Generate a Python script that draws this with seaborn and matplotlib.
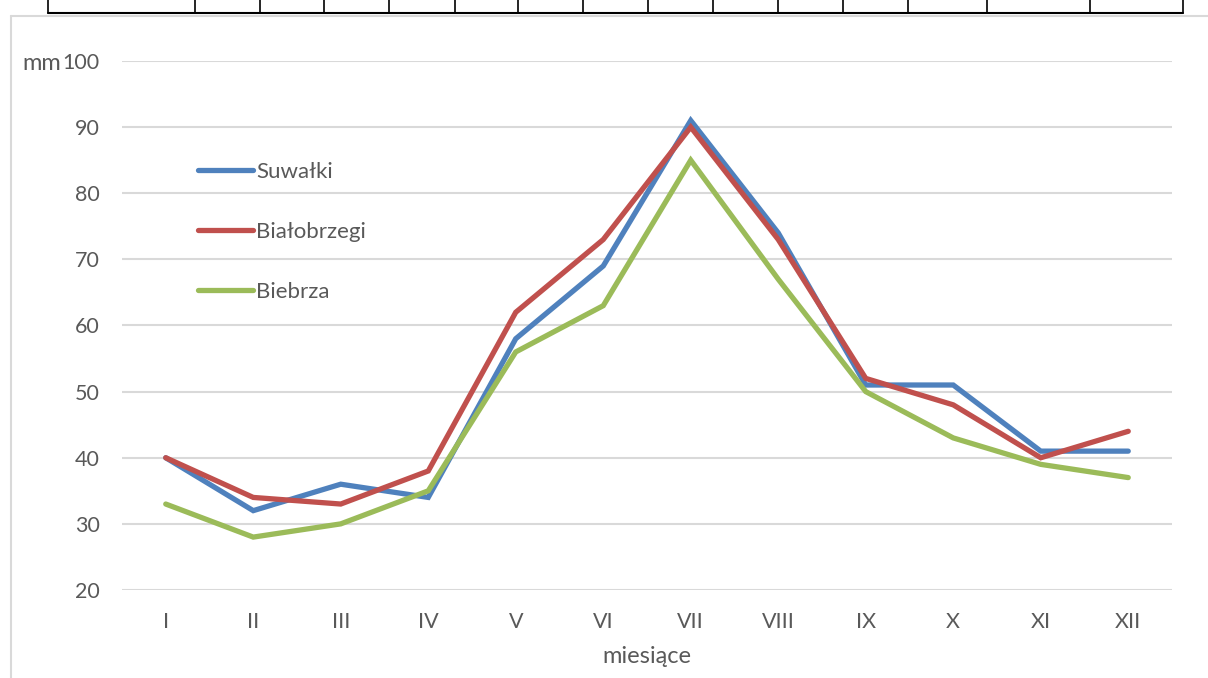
import numpy as np
import pandas as pd
import matplotlib
matplotlib.use("Agg")
import matplotlib.pyplot as plt
import seaborn as sns
from matplotlib.lines import Line2D

# ── data ──────────────────────────────────────────────────────────────────────
months = ["I", "II", "III", "IV", "V", "VI", "VII", "VIII", "IX", "X", "XI", "XII"]
suwalki = [40, 32, 36, 34, 58, 69, 91, 74, 51, 51, 41, 41]
bialobrzegi = [40, 34, 33, 38, 62, 73, 90, 73, 52, 48, 40, 44]
biebrza = [33, 28, 30, 35, 56, 63, 85, 67, 50, 43, 39, 37]
series_names = ["Suwałki", "Białobrzegi", "Biebrza"]
colors = ["#4F81BD", "#C0504D", "#9BBB59"]

df = pd.DataFrame({
    "miesiac": months * 3,
    "opad": suwalki + bialobrzegi + biebrza,
    "stacja": np.repeat(series_names, len(months)),
})

# ── style ─────────────────────────────────────────────────────────────────────
sns.set_theme(style="white")
plt.rcParams["font.family"] = ["Lato", "DejaVu Sans"]
grey = "#595959"

fig = plt.figure(figsize=(12.08, 6.78), dpi=100)
ax = fig.add_axes([122 / 1208, 1 - 590 / 678, 1050 / 1208, 529 / 678])

sns.lineplot(data=df, x="miesiac", y="opad", hue="stacja", hue_order=series_names,
             palette=colors, sort=False, linewidth=3.8, ax=ax,
             solid_capstyle="round", solid_joinstyle="miter")

ax.set_xlim(-0.5, 11.5)
ax.set_ylim(20, 100)
ax.set_yticks(range(20, 101, 10))
ax.grid(axis="y", color="#D9D9D9", linewidth=1.5)
ax.set_axisbelow(True)
for s in ax.spines.values():
    s.set_visible(False)
ax.tick_params(axis="both", length=0, labelsize=15.5, labelcolor=grey)
ax.tick_params(axis="y", pad=16)
ax.tick_params(axis="x", pad=16)
ax.set_xlabel("miesiące", fontsize=17, color=grey, labelpad=10)
ax.set_ylabel("")

leg = ax.legend(loc="upper left", bbox_to_anchor=(0.072, 0.809), frameon=False,
                fontsize=16, handlelength=2.5, handletextpad=0.15, labelspacing=1.8,
                borderpad=0, borderaxespad=0)
for t in leg.get_texts():
    t.set_color(grey)
for h in leg.get_lines():
    h.set_linewidth(3.8)
    h.set_solid_capstyle("round")

fig.text(61 / 1208, 1 - 63 / 678, "mm", fontsize=17, color=grey, ha="right", va="center")

# ── chart frame and table edge at the top ─────────────────────────────────────
H, W = 678, 1208
fig.add_artist(Line2D([11 / W, 11 / W], [1 - 16 / H, 0], color="#D9D9D9", lw=1.5,
                      transform=fig.transFigure))
fig.add_artist(Line2D([11 / W, 1], [1 - 16 / H, 1 - 16 / H], color="#D9D9D9", lw=1.5,
                      transform=fig.transFigure))
fig.add_artist(Line2D([48 / W, 1183 / W], [1 - 13 / H, 1 - 13 / H], color="black", lw=1.5,
                      transform=fig.transFigure))
for xv in [48, 195, 260, 324, 389, 455, 518, 583, 648, 713, 778, 843, 908, 987, 1090, 1183]:
    fig.add_artist(Line2D([xv / W, xv / W], [1, 1 - 13 / H], color="black", lw=1.2,
                          transform=fig.transFigure))

fig.savefig("out.png", dpi=100)
